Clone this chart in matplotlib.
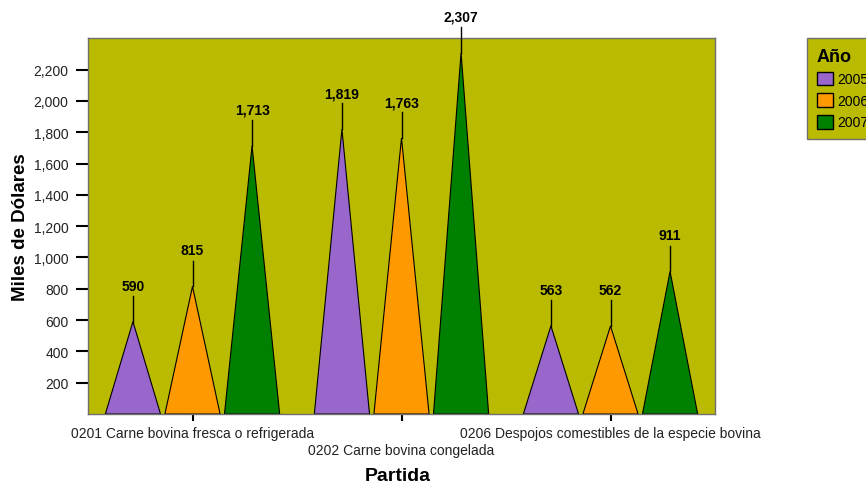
import matplotlib
matplotlib.use("Agg")
import matplotlib.pyplot as plt
from matplotlib.patches import Polygon, Patch
import numpy as np

categories = ["0201 Carne bovina fresca o refrigerada",
              "0202 Carne bovina congelada",
              "0206 Despojos comestibles de la especie bovina"]
years = ["2005", "2006", "2007"]
values = {
    "2005": [590, 1819, 563],
    "2006": [815, 1763, 562],
    "2007": [1713, 2307, 911],
}
colors = {"2005": "#9966CC", "2006": "#FF9900", "2007": "#008000"}
bg = "#BABA00"

plt.rcParams['font.family'] = ['Liberation Sans', 'DejaVu Sans']

fig = plt.figure(figsize=(8.66, 4.85), dpi=100)
ax = fig.add_axes([88/866, 1-415/485, (715-88)/866, (415-39)/485])
ax.set_facecolor(bg)

offset = 0.285
half = 0.132
lab_ext = 165
for j, y in enumerate(years):
    for i, v in enumerate(values[y]):
        xc = i + (j - 1) * offset
        poly = Polygon([[xc - half, 0], [xc, v], [xc + half, 0]], closed=True,
                       facecolor=colors[y], edgecolor="black", linewidth=0.8, zorder=2)
        ax.add_patch(poly)
        ax.plot([xc, xc], [v, v + lab_ext], color="black", linewidth=1.0,
                zorder=3, clip_on=False)
        ax.text(xc, v + lab_ext + 20, f"{v:,}", ha="center", va="bottom",
                fontsize=10, fontweight="bold", clip_on=False, zorder=4)

ax.set_xlim(-0.5, 2.5)
ax.set_ylim(0, 2402)
ax.set_yticks(np.arange(200, 2201, 200))
ax.set_yticklabels([f"{t:,}" for t in range(200, 2201, 200)], fontsize=10, color="#222222")
ax.set_xticks(range(3))
ax.set_xticklabels([])
ypos = [-0.032, -0.078, -0.032]
for i, c in enumerate(categories):
    ax.text(i, ypos[i], c, transform=ax.get_xaxis_transform(), ha="center", va="top",
            fontsize=10, color="#222222")

ax.tick_params(axis="y", length=9, width=1.5, color="black", pad=5)
ax.tick_params(axis="x", length=5, width=1.5, color="black")
for s in ax.spines.values():
    s.set_color("#707070")
    s.set_linewidth(1.0)

ax.set_ylabel("Miles de Dólares", fontsize=13.5, fontweight="bold")
ax.yaxis.set_label_coords(-0.094, 0.5)
fig.text(398/866, 1 - 477/485, "Partida", ha="center", va="center",
         fontsize=14, fontweight="bold")

handles = [Patch(facecolor=colors[y], edgecolor="black", label=y) for y in years]
leg = fig.legend(handles=handles, title="Año", loc="upper left",
                 bbox_to_anchor=(807/866, 1 - 39/485), fontsize=10,
                 title_fontproperties={"weight": "bold", "size": 13},
                 frameon=True, fancybox=False, handlelength=1.15, handleheight=1.15,
                 handletextpad=0.3, labelspacing=0.5, borderpad=0.7, borderaxespad=0,
                 alignment="left")
leg.get_frame().set_facecolor(bg)
leg.get_frame().set_edgecolor("#707070")
leg.get_frame().set_alpha(1)

fig.savefig("out.png", dpi=100)
